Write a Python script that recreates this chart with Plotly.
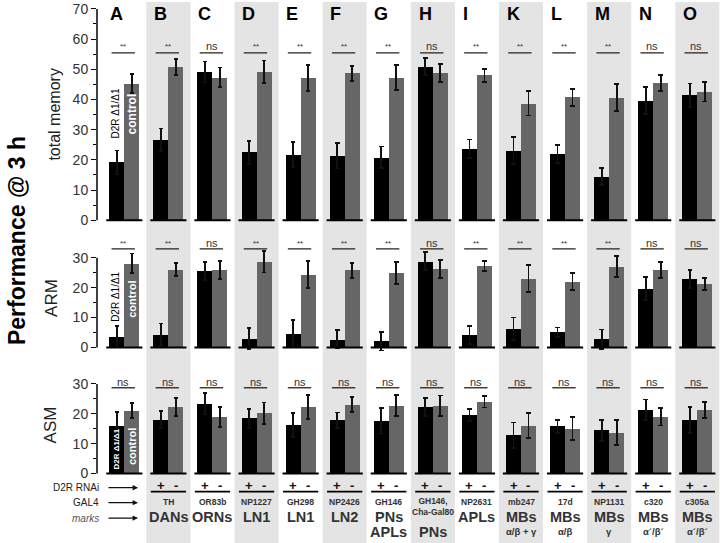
import plotly.graph_objects as go
import numpy as np

panels = ["A", "B", "C", "D", "E", "F", "G", "H", "I", "K", "L", "M", "N", "O"]
gal4 = ["", "TH", "OR83b", "NP1227", "GH298", "NP2426", "GH146", "GH146,<br>Cha-Gal80",
        "NP2631", "mb247", "17d", "NP1131", "c320", "c305a"]
marks1 = ["", "DANs", "ORNs", "LN1", "LN1", "LN2", "PNs", "", "APLs", "MBs", "MBs", "MBs", "MBs", "MBs"]
marks2 = ["", "", "", "", "", "", "APLs", "PNs", "", "α/β + γ", "α/β", "γ", "α´/β´", "α´/β´"]
shaded = [False, True, False, True, False, True, False, True, False, True, False, True, False, True]

total_mut = [19.2, 26.6, 49.1, 22.5, 21.7, 21.3, 20.8, 50.9, 23.7, 23.0, 22.0, 14.5, 39.6, 41.4]
total_mut_err = [3.9, 3.8, 3.5, 3.8, 4.1, 4.2, 3.6, 2.9, 3.0, 4.5, 3.0, 2.9, 4.5, 3.9]
total_ctl = [45.3, 50.7, 47.3, 49.2, 47.1, 48.7, 47.3, 48.7, 48.0, 38.7, 40.7, 40.6, 45.5, 42.6]
total_ctl_err = [3.2, 2.7, 3.3, 3.7, 4.4, 2.5, 4.1, 3.0, 2.1, 4.0, 2.8, 4.5, 2.7, 3.3]

arm_mut = [3.7, 4.3, 25.6, 3.0, 4.6, 2.7, 2.1, 28.8, 4.2, 6.2, 5.1, 2.8, 19.7, 22.9]
arm_mut_err = [3.5, 3.7, 3.1, 3.6, 4.5, 3.0, 3.1, 3.0, 3.0, 3.8, 1.6, 3.2, 3.9, 2.9]
arm_ctl = [28.1, 26.1, 25.8, 28.7, 24.3, 25.8, 25.0, 26.3, 27.2, 23.1, 22.1, 27.1, 25.9, 21.2]
arm_ctl_err = [3.3, 2.2, 3.0, 3.6, 4.5, 2.5, 3.7, 3.0, 1.7, 4.6, 2.8, 3.6, 2.7, 2.0]

asm_mut = [16.1, 18.1, 23.4, 18.5, 16.3, 17.8, 17.7, 22.3, 19.6, 12.8, 15.8, 14.5, 21.3, 17.9]
asm_mut_err = [4.4, 2.8, 3.6, 3.2, 4.0, 2.6, 4.3, 3.1, 2.0, 4.3, 2.2, 3.5, 3.5, 4.3]
asm_ctl = [21.1, 22.2, 18.9, 20.2, 22.2, 23.0, 22.7, 22.7, 24.0, 16.1, 15.1, 13.7, 19.0, 21.3]
asm_ctl_err = [2.6, 3.0, 3.4, 3.6, 4.0, 2.5, 3.5, 3.4, 1.9, 4.2, 3.8, 4.1, 2.9, 2.7]

sig_total = ["**", "**", "ns", "**", "**", "**", "**", "ns", "**", "**", "**", "**", "ns", "ns"]
sig_arm = ["**", "**", "ns", "**", "**", "**", "**", "ns", "**", "**", "**", "**", "ns", "ns"]
sig_asm = ["ns"] * 14

y_ticks_total = [0, 10, 20, 30, 40, 50, 60, 70]
y_ticks_30 = [0, 10, 20, 30]

FONT = "Arial, Liberation Sans, sans-serif"
H = 543.0
BLACK = "#000000"
GREY = "#666666"
SHADE = "#e4e4e4"

def pap(py):
    return 1 - py / H

def dom(zero_py, ppu, lo, hi):
    return [pap(zero_py - lo * ppu), pap(zero_py - hi * ppu)]

# x pixel -> paper (plot area 97..720)
def px(p):
    return (p - 97) / 623.0

n = len(panels)
xi = np.arange(n)
off = 0.17
bw = 0.34

fig = go.Figure()

rows = [
    ("y", total_mut, total_mut_err, total_ctl, total_ctl_err),
    ("y2", arm_mut, arm_mut_err, arm_ctl, arm_ctl_err),
    ("y3", asm_mut, asm_mut_err, asm_ctl, asm_ctl_err),
]
for ya, m, me, c, ce in rows:
    fig.add_trace(go.Bar(x=xi - off, y=m, width=bw, yaxis=ya, marker=dict(color=BLACK, line=dict(width=0)),
                         error_y=dict(type="data", array=me, color="#111", thickness=1.8, width=2.3),
                         showlegend=False, hoverinfo="skip"))
    fig.add_trace(go.Bar(x=xi + off, y=c, width=bw, yaxis=ya, marker=dict(color=GREY, line=dict(width=0)),
                         error_y=dict(type="data", array=ce, color="#111", thickness=1.8, width=2.3),
                         showlegend=False, hoverinfo="skip"))

shapes = []
annotations = []

# shading
for i in range(n):
    if shaded[i]:
        shapes.append(dict(type="rect", xref="x", yref="paper", x0=i - 0.5, x1=i + 0.5, y0=0, y1=1,
                           fillcolor=SHADE, line=dict(width=0), layer="below"))

# axis lines
for ya, top in [("y", 70), ("y2", 30), ("y3", 30)]:
    shapes.append(dict(type="line", xref="paper", yref=ya, x0=0, x1=0, y0=0, y1=top,
                       line=dict(color=BLACK, width=1.5)))

# baselines and significance brackets
sig_rows = [("y", sig_total, 55.4, 57.6), ("y2", sig_arm, 33.0, 34.8), ("y3", sig_asm, 28.7, 30.5)]
for ya, sigs, ly, ty in sig_rows:
    for i in range(n):
        shapes.append(dict(type="line", xref="x", yref=ya, x0=i - 0.41, x1=i + 0.41, y0=0, y1=0,
                           line=dict(color=BLACK, width=2)))
        shapes.append(dict(type="line", xref="x", yref=ya, x0=i - 0.29, x1=i + 0.24, y0=ly, y1=ly,
                           line=dict(color="#222", width=1.3)))
        s = sigs[i]
        annotations.append(dict(xref="x", yref=ya, x=i - 0.02, y=ty, text=s, showarrow=False,
                                font=dict(family=FONT, size=8 if s == "**" else 11, color="#333"),
                                xanchor="center", yanchor="middle"))

# panel letters
for i, p in enumerate(panels):
    annotations.append(dict(xref="x", yref="paper", x=i - 0.37, y=pap(12), text="<b>%s</b>" % p,
                            showarrow=False, xanchor="left", yanchor="middle",
                            font=dict(family=FONT, size=18, color=BLACK)))

# in-bar labels
annotations += [
    dict(xref="x", yref="y", x=-0.19, y=35.3, text="D2R Δ1/Δ1", textangle=-90, showarrow=False,
         font=dict(family=FONT, size=10, color=BLACK), xanchor="center", yanchor="middle"),
    dict(xref="x", yref="y", x=0.17, y=35.3, text="<b>control</b>", textangle=-90, showarrow=False,
         font=dict(family=FONT, size=12, color="white"), xanchor="center", yanchor="middle"),
    dict(xref="x", yref="y2", x=-0.19, y=16.9, text="D2R Δ1/Δ1", textangle=-90, showarrow=False,
         font=dict(family=FONT, size=10, color=BLACK), xanchor="center", yanchor="middle"),
    dict(xref="x", yref="y2", x=0.17, y=16.2, text="<b>control</b>", textangle=-90, showarrow=False,
         font=dict(family=FONT, size=11, color="white"), xanchor="center", yanchor="middle"),
    dict(xref="x", yref="y3", x=-0.17, y=8.3, text="<b>D2R Δ1/Δ1</b>", textangle=-90, showarrow=False,
         font=dict(family=FONT, size=8, color="white"), xanchor="center", yanchor="middle"),
    dict(xref="x", yref="y3", x=0.19, y=9.1, text="<b>control</b>", textangle=-90, showarrow=False,
         font=dict(family=FONT, size=11, color="white"), xanchor="center", yanchor="middle"),
]

# axis titles
annotations += [
    dict(xref="paper", yref="paper", x=px(17), y=pap(240), text="<b>Performance @ 3 h</b>", textangle=-90,
         showarrow=False, font=dict(family=FONT, size=23, color=BLACK), xanchor="center", yanchor="middle"),
    dict(xref="paper", yref="paper", x=px(55), y=pap(113), text="total memory", textangle=-90,
         showarrow=False, font=dict(family=FONT, size=16, color="#222"), xanchor="center", yanchor="middle"),
    dict(xref="paper", yref="paper", x=px(52), y=pap(297), text="ARM", textangle=-90,
         showarrow=False, font=dict(family=FONT, size=17, color="#222"), xanchor="center", yanchor="middle"),
    dict(xref="paper", yref="paper", x=px(50), y=pap(425), text="ASM", textangle=-90,
         showarrow=False, font=dict(family=FONT, size=17, color="#222"), xanchor="center", yanchor="middle"),
]

# bottom row labels with arrows
for lbl, py, it in [("D2R RNAi", 487.5, False), ("GAL4", 502.5, False), ("marks", 518, True)]:
    annotations.append(dict(xref="paper", yref="paper", x=px(101), y=pap(py),
                            text=("<i>%s</i>" % lbl) if it else lbl, showarrow=False,
                            xanchor="right", yanchor="middle",
                            font=dict(family=FONT, size=10, color="#555" if it else "#222")))
    annotations.append(dict(xref="paper", yref="paper", x=px(138), y=pap(py), ax=-31, ay=0, text="",
                            showarrow=True, arrowhead=2, arrowsize=0.9, arrowwidth=1.2, arrowcolor="#111"))

for i in range(1, n):
    annotations.append(dict(xref="x", yref="paper", x=i - off, y=pap(485), text="<b>+</b>", showarrow=False,
                            font=dict(family=FONT, size=13, color="#111"), xanchor="center", yanchor="middle"))
    annotations.append(dict(xref="x", yref="paper", x=i + off, y=pap(485), text="<b>-</b>", showarrow=False,
                            font=dict(family=FONT, size=13, color="#111"), xanchor="center", yanchor="middle"))
    shapes.append(dict(type="line", xref="x", yref="paper", x0=i - 0.4, x1=i + 0.4, y0=pap(491.5), y1=pap(491.5),
                       line=dict(color=BLACK, width=1.8)))
    g = gal4[i]
    annotations.append(dict(xref="x", yref="paper", x=i, y=pap(506 if "<br>" in g else 502),
                            text="<b>%s</b>" % g, showarrow=False, xanchor="center", yanchor="middle",
                            font=dict(family=FONT, size=8.5, color="#333")))
    if marks1[i]:
        annotations.append(dict(xref="x", yref="paper", x=i, y=pap(517), text="<b>%s</b>" % marks1[i],
                                showarrow=False, xanchor="center", yanchor="middle",
                                font=dict(family=FONT, size=14.5, color="#333")))
    if marks2[i]:
        big = marks2[i] in ("APLs", "PNs")
        annotations.append(dict(xref="x", yref="paper", x=i, y=pap(531.5), text="<b>%s</b>" % marks2[i],
                                showarrow=False, xanchor="center", yanchor="middle",
                                font=dict(family=FONT, size=14.5 if big else 9.5, color="#333")))

def yax(rng, domain, ticks, minor):
    return dict(range=rng, domain=domain, anchor="x", tickvals=ticks, ticks="outside", ticklen=5,
                tickwidth=1.3, tickcolor=BLACK, showgrid=False, zeroline=False, showline=False,
                tickfont=dict(family=FONT, size=14, color="#333"),
                minor=dict(tickvals=minor, ticks="outside", ticklen=3, tickwidth=1.1, tickcolor=BLACK,
                           showgrid=False))

fig.update_layout(
    width=720, height=543,
    margin=dict(l=97, r=0, t=0, b=0),
    paper_bgcolor="white", plot_bgcolor="rgba(0,0,0,0)",
    barmode="overlay", bargap=0,
    xaxis=dict(range=[-0.62, 13.515], visible=False, fixedrange=True),
    yaxis=yax([-5, 72], dom(219, 3.03, -5, 72), y_ticks_total, [5, 15, 25, 35, 45, 55, 65]),
    yaxis2=yax([-4.5, 36], dom(346.7, 3.0, -4.5, 36), y_ticks_30, [5, 15, 25]),
    yaxis3=yax([-2.5, 32], dom(473.3, 3.0, -2.5, 32), y_ticks_30, [5, 15, 25]),
    shapes=shapes, annotations=annotations,
    showlegend=False,
)

fig.write_html("out.html", config={"displayModeBar": False},
               post_script="document.body.style.margin='0';document.body.style.overflow='hidden';")
